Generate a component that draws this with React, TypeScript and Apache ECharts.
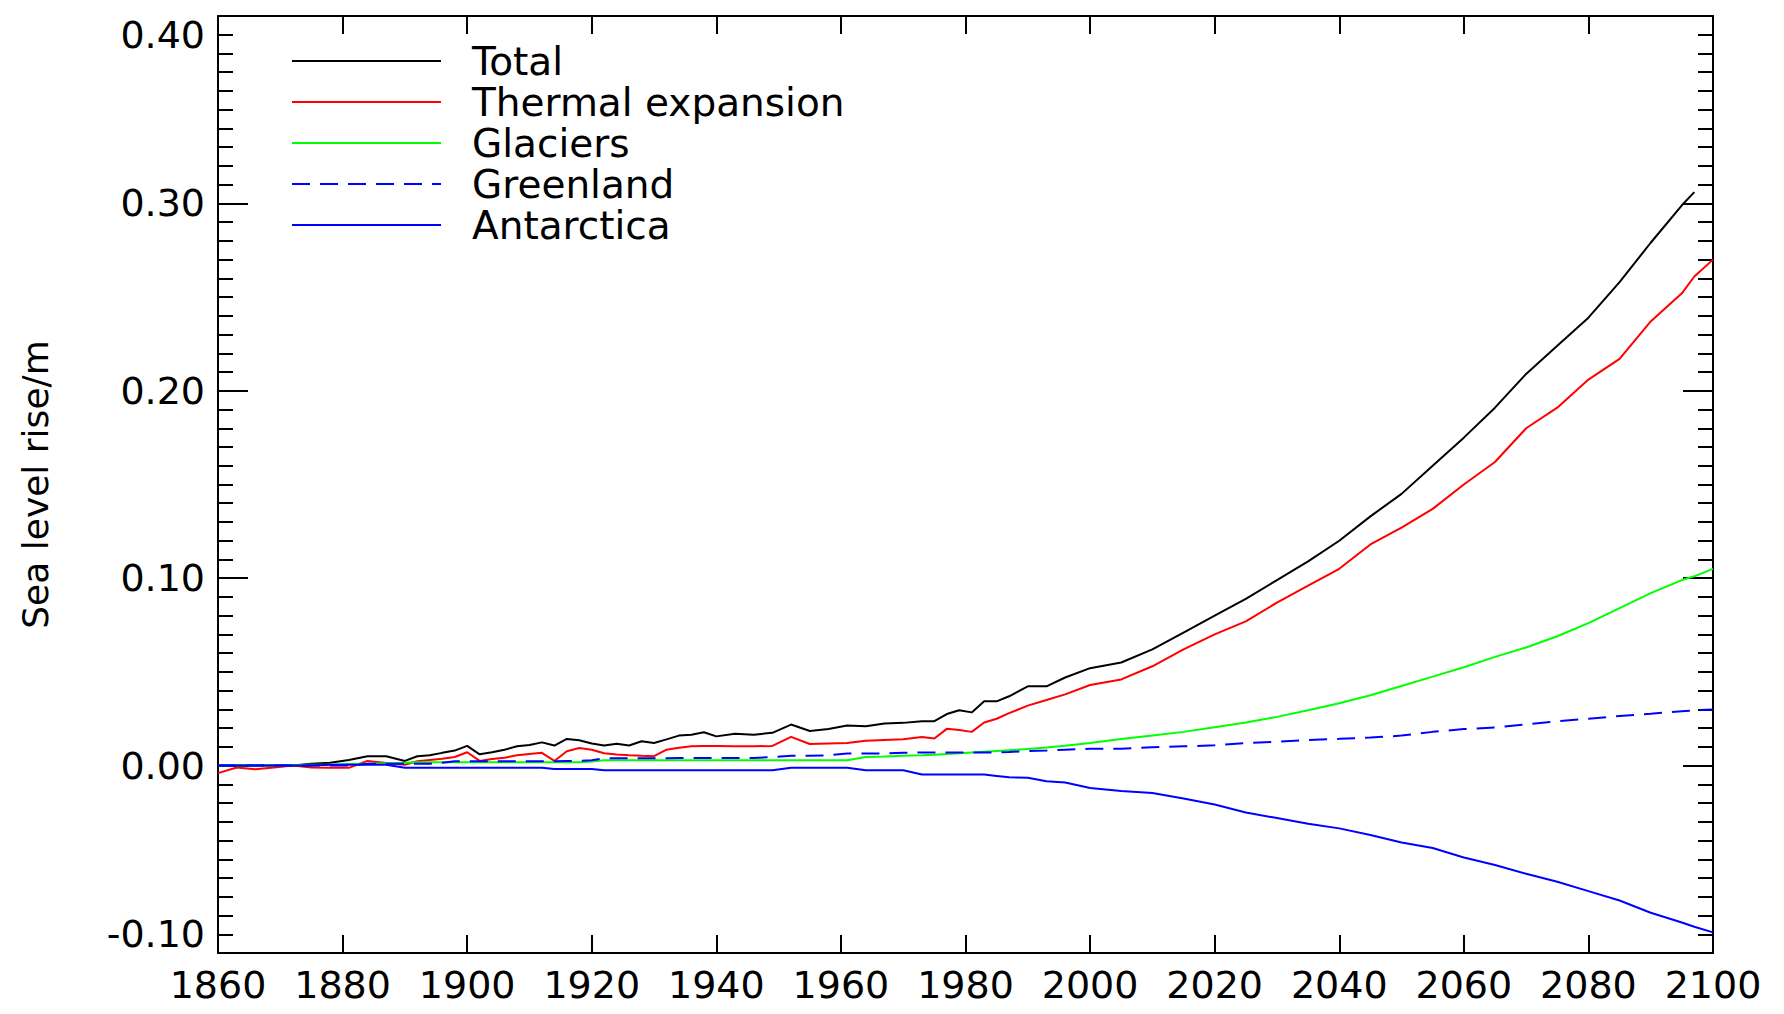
import React, { useEffect, useRef } from "react";
import * as echarts from "echarts";

const years = [
  1860, 1863, 1866, 1869, 1872, 1875, 1878, 1881, 1884, 1887,
  1890, 1892, 1894, 1896, 1898, 1900, 1902, 1904, 1906, 1908,
  1910, 1912, 1914, 1916, 1918, 1920, 1922, 1924, 1926, 1928,
  1930, 1932, 1934, 1936, 1938, 1940, 1943, 1946, 1949, 1952,
  1955, 1958, 1961, 1964, 1967, 1970, 1973, 1975, 1977, 1979,
  1981, 1983, 1985, 1987, 1990, 1993, 1996, 2000, 2005, 2010,
  2015, 2020, 2025, 2030, 2035, 2040, 2045, 2050, 2055, 2060,
  2065, 2070, 2075, 2080, 2085, 2090, 2095, 2097, 2100,
];

const totalVals = [
  0.0, 0.0, 0.0, 0.0, 0.0, 0.001, 0.0015, 0.003, 0.005, 0.005,
  0.0025, 0.005, 0.0055, 0.0068, 0.008, 0.0105, 0.006, 0.0071, 0.0085, 0.0103,
  0.011, 0.0124, 0.0107, 0.0142, 0.0135, 0.0118, 0.0107, 0.0117, 0.0107, 0.013,
  0.0121, 0.014, 0.016, 0.0165, 0.0178, 0.0156, 0.017, 0.0165, 0.0175, 0.0219,
  0.0185, 0.0195, 0.0214, 0.021, 0.0225, 0.0228, 0.0237, 0.0237, 0.0275, 0.0295,
  0.0284, 0.0343, 0.0343, 0.037, 0.0423, 0.0423, 0.047, 0.052, 0.055, 0.062,
  0.071, 0.08, 0.089, 0.099, 0.109, 0.12, 0.133, 0.145, 0.16, 0.175,
  0.191, 0.209, 0.224, 0.239, 0.258, 0.279, 0.299, 0.306, null,
];

const thermalVals = [
  -0.004, -0.001, -0.002, -0.001, 0.0, -0.001, -0.0012, -0.0012, 0.0025, 0.0014,
  0.0005, 0.0023, 0.003, 0.0036, 0.0046, 0.0071, 0.0025, 0.0035, 0.0042, 0.0055,
  0.0062, 0.0068, 0.0025, 0.0077, 0.0094, 0.0085, 0.0066, 0.0059, 0.0055, 0.0052,
  0.005, 0.0085, 0.0095, 0.0103, 0.0104, 0.0105, 0.0103, 0.0103, 0.0105, 0.0153,
  0.0115, 0.0118, 0.012, 0.0132, 0.0137, 0.014, 0.0153, 0.0145, 0.0196, 0.019,
  0.018, 0.023, 0.025, 0.028, 0.032, 0.035, 0.038, 0.043, 0.046, 0.053,
  0.062, 0.07, 0.077, 0.087, 0.096, 0.105, 0.118, 0.127, 0.137, 0.15,
  0.162, 0.18, 0.191, 0.206, 0.217, 0.237, 0.252, 0.261, 0.27,
];

const glacierVals = [
  0.0, 0.0, 0.0, 0.0, 0.0003, 0.0005, 0.0005, 0.0008, 0.001, 0.0012,
  0.0015, 0.0018, 0.0018, 0.0018, 0.0018, 0.0018, 0.0018, 0.0018, 0.0018, 0.0018,
  0.0018, 0.0018, 0.0018, 0.0018, 0.0018, 0.0022, 0.0028, 0.0028, 0.0028, 0.0028,
  0.0028, 0.0028, 0.0028, 0.0028, 0.0028, 0.0028, 0.0028, 0.0028, 0.0028, 0.0028,
  0.0028, 0.0028, 0.0028, 0.0046, 0.0048, 0.0052, 0.0055, 0.0058, 0.0062, 0.0066,
  0.007, 0.0074, 0.0078, 0.0082, 0.0088, 0.0096, 0.0106, 0.012, 0.0142, 0.016,
  0.018, 0.0205, 0.023, 0.026, 0.0295, 0.0333, 0.0375, 0.0425, 0.0475, 0.0525,
  0.058, 0.063, 0.069, 0.076, 0.084, 0.092, 0.099, 0.101, 0.105,
];

const greenlandVals = [
  0.0, 0.0, 0.0, 0.0, 0.0, 0.0, 0.0, 0.0, 0.001, 0.001,
  0.001, 0.001, 0.001, 0.0015, 0.0023, 0.0023, 0.0023, 0.0023, 0.0023, 0.0023,
  0.0023, 0.0023, 0.0023, 0.0025, 0.0025, 0.0028, 0.0039, 0.0039, 0.0039, 0.0039,
  0.0039, 0.0039, 0.004, 0.004, 0.004, 0.004, 0.0041, 0.0041, 0.0045, 0.0053,
  0.0053, 0.0055, 0.0064, 0.0064, 0.0065, 0.0068, 0.007, 0.007, 0.007, 0.007,
  0.007, 0.007, 0.007, 0.0072, 0.0078, 0.008, 0.0085, 0.009, 0.009, 0.0098,
  0.0103, 0.0108, 0.012, 0.0127, 0.0137, 0.0143, 0.015, 0.016, 0.018, 0.0195,
  0.0203, 0.022, 0.0237, 0.025, 0.0265, 0.0277, 0.029, 0.0295, 0.03,
];

const antarcticaVals = [
  0.0, 0.0, 0.0, 0.0, 0.0, 0.0, 0.0005, 0.0005, 0.0005, 0.0005,
  -0.0012, -0.0012, -0.0012, -0.0012, -0.0012, -0.0012, -0.0012, -0.0012, -0.0012, -0.0012,
  -0.0012, -0.0012, -0.0018, -0.0018, -0.0018, -0.0018, -0.0025, -0.0025, -0.0025, -0.0025,
  -0.0025, -0.0025, -0.0025, -0.0025, -0.0025, -0.0025, -0.0025, -0.0025, -0.0025, -0.0012,
  -0.0012, -0.0012, -0.0012, -0.0025, -0.0025, -0.0025, -0.0048, -0.0048, -0.0048, -0.0048,
  -0.0048, -0.0048, -0.0055, -0.0062, -0.0065, -0.0084, -0.009, -0.012, -0.0135, -0.0146,
  -0.0175, -0.0208, -0.025, -0.028, -0.031, -0.0335, -0.037, -0.041, -0.044, -0.049,
  -0.053, -0.0577, -0.062, -0.067, -0.072, -0.0785, -0.0837, -0.086, -0.089,
];

const seriesNames = ["Total", "Thermal expansion", "Glaciers", "Greenland", "Antarctica"];
const seriesColors = ["#000000", "#ff0000", "#00ff00", "#0000ff", "#0000ff"];
const seriesDashed = [false, false, false, true, false];
const seriesValues = [totalVals, thermalVals, glacierVals, greenlandVals, antarcticaVals];

const xMin = 1860;
const xMax = 2100;
const xStep = 20;
const yMin = -0.1;
const yMax = 0.4;
const yStep = 0.1;
const yTitle = "Sea level rise/m";

const FONT = "DejaVu Sans";
const DASH = [18, 10];

export default function App() {
  const ref = useRef<HTMLDivElement>(null);

  useEffect(() => {
    if (!ref.current) return;
    const chart = echarts.init(ref.current, null, { renderer: "svg" });

    const axisLine = { show: true, onZero: false, lineStyle: { color: "#000", width: 2 } };
    const tickStyle = { color: "#000", width: 2 };
    const labelStyle = { fontFamily: FONT, fontSize: 38, color: "#000" };

    const series = seriesNames.map((name, k) => ({
      name,
      type: "line",
      data: years.map((yr, i) => [yr, seriesValues[k][i]]),
      showSymbol: false,
      symbol: "none",
      connectNulls: false,
      lineStyle: {
        color: seriesColors[k],
        width: 2,
        type: seriesDashed[k] ? DASH : "solid",
      },
      itemStyle: { color: seriesColors[k] },
      z: 2 + k,
    }));

    const legendX0 = 292;
    const legendX1 = 441;
    const legendTextX = 472;
    const legendY0 = 61;
    const legendDy = 41;
    const graphic: any[] = [];
    seriesNames.forEach((name, k) => {
      const y = legendY0 + k * legendDy;
      graphic.push({
        type: "line",
        shape: { x1: legendX0, y1: y, x2: legendX1, y2: y },
        style: {
          stroke: seriesColors[k],
          lineWidth: 2,
          lineDash: seriesDashed[k] ? DASH : null,
        },
        z: 10,
      });
      graphic.push({
        type: "text",
        x: legendTextX,
        y,
        style: {
          text: name,
          fontFamily: FONT,
          fontSize: 39,
          lineHeight: 36,
          fill: "#000",
          verticalAlign: "middle",
        },
        z: 10,
      });
    });

    chart.setOption({
      animation: false,
      backgroundColor: "#ffffff",
      grid: { left: 218, right: 71, top: 16, bottom: 61, containLabel: false, outerBoundsMode: "none" },
      xAxis: [
        {
          type: "value",
          position: "bottom",
          min: xMin,
          max: xMax,
          interval: xStep,
          axisLine,
          axisTick: { show: true, inside: true, length: 18, lineStyle: tickStyle },
          axisLabel: { ...labelStyle, margin: 13, formatter: (v: number) => String(v) },
          splitLine: { show: false },
        },
        {
          type: "value",
          position: "top",
          min: xMin,
          max: xMax,
          interval: xStep,
          axisLine,
          axisTick: { show: true, inside: true, length: 18, lineStyle: tickStyle },
          axisLabel: { show: false },
          splitLine: { show: false },
        },
      ],
      yAxis: [
        {
          type: "value",
          position: "left",
          min: yMin,
          max: yMax,
          interval: yStep,
          axisLine,
          axisTick: { show: true, inside: true, length: 30, lineStyle: tickStyle },
          minorTick: { show: true, splitNumber: 10, length: 15, lineStyle: tickStyle },
          axisLabel: {
            ...labelStyle,
            margin: 13,
            formatter: (v: number) => v.toFixed(2),
            verticalAlignMinLabel: "bottom",
            verticalAlignMaxLabel: "top",
          },
          splitLine: { show: false },
          minorSplitLine: { show: false },
          name: yTitle,
          nameLocation: "middle",
          nameGap: 165,
          nameTextStyle: { fontFamily: FONT, fontSize: 36, color: "#000" },
        },
        {
          type: "value",
          position: "right",
          min: yMin,
          max: yMax,
          interval: yStep,
          axisLine,
          axisTick: { show: true, inside: true, length: 30, lineStyle: tickStyle },
          minorTick: { show: true, splitNumber: 10, length: 15, lineStyle: tickStyle },
          axisLabel: { show: false },
          splitLine: { show: false },
          minorSplitLine: { show: false },
        },
      ],
      series,
      graphic,
    });

    return () => {
      chart.dispose();
    };
  }, []);

  return (
    <div
      ref={ref}
      style={{ position: "absolute", left: 0, top: 0, width: "1784px", height: "1014px" }}
    />
  );
}
